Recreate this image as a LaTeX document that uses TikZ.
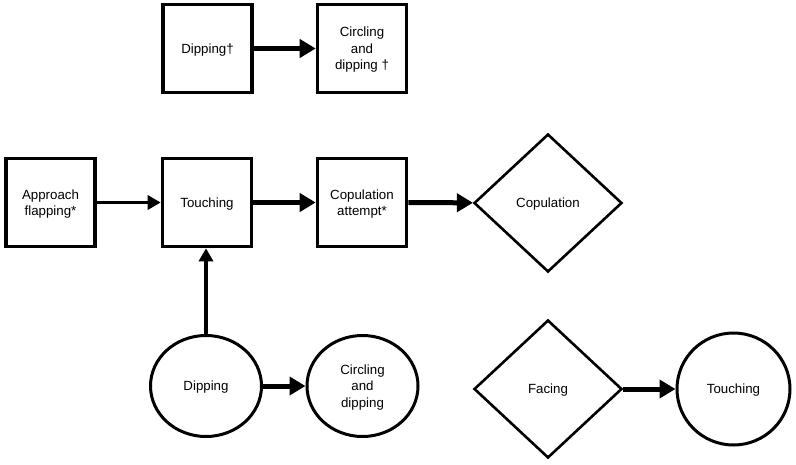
\documentclass[tikz,border=0pt]{standalone}
\usepackage{fontspec}
\setmainfont{Liberation Sans}
\usetikzlibrary{shapes.geometric,arrows.meta}
\tikzset{
  base/.style={draw=black, fill=white, inner sep=0pt, align=center, text depth=0pt, font=\fontsize{13.3}{16.5}\selectfont},
  sqbox/.style={base, rectangle, line width=3.6pt, minimum width=89pt, minimum height=88pt},
  dia/.style={base, diamond, line width=2.6pt, minimum width=148pt, minimum height=138pt},
  ell/.style={base, ellipse, line width=3pt, minimum width=111pt, minimum height=101pt},
  thickarr/.style={line width=5pt, -{Triangle[length=16pt,width=18pt]}},
  thinarr/.style={line width=3.4pt, -{Triangle[length=13pt,width=14pt]}}
}
\begin{document}
\begin{tikzpicture}[x=1pt,y=-1pt]
\useasboundingbox (0,0) rectangle (796,464);
\node[sqbox] (dipA) at (207.5,48.5) {Dipping†};
\node[sqbox] (circA) at (362,48.5) {Circling\\and\\dipping †};
\node[sqbox] (appr) at (50.5,202.5) {Approach\\flapping*};
\node[sqbox] (touch) at (207,202.5) {Touching};
\node[sqbox] (copat) at (362,202.5) {Copulation\\attempt*};
\node[dia] (cop) at (548,203) {Copulation};
\node[ell] (dip) at (206,386) {Dipping};
\node[ell] (circ) at (362.5,386) {Circling\\and\\dipping};
\node[dia] (face) at (548,389) {Facing};
\node[ell, minimum width=113pt, minimum height=112pt] (touch2) at (733.5,389) {Touching};

\draw[thickarr] (dipA) -- (circA);
\draw[thinarr] (appr) -- (touch);
\draw[thickarr] (touch) -- (copat);
\draw[thickarr] (copat) -- (cop);
\draw[thinarr] (dip.north) -- (dip.north |- touch.south);
\draw[thickarr] (dip) -- (circ);
\draw[thickarr] (face.east) -- (touch2.west);
\end{tikzpicture}
\end{document}
